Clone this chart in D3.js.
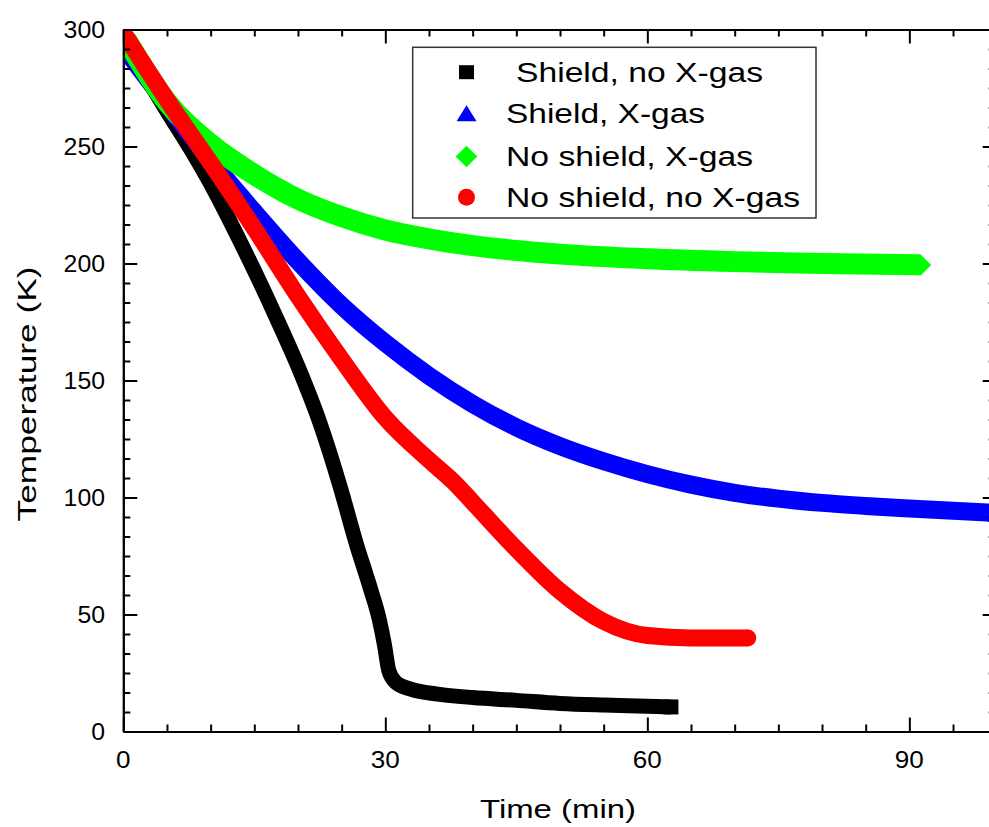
<!DOCTYPE html>
<html>
<head>
<meta charset="utf-8">
<script src="https://cdn.jsdelivr.net/npm/d3@7"></script>
<style>
  html, body { margin: 0; padding: 0; background: #fff; }
  svg { display: block; }
  text { font-family: "Liberation Sans", Arial, sans-serif; fill: #000; }
</style>
</head>
<body>
<svg id="chart" width="989" height="827"></svg>
<script>
// ---------------- data ----------------
const seriesNames = ["Shield, no X-gas", "Shield, X-gas", "No shield, X-gas", "No shield, no X-gas"];
const seriesColors = ["#000000", "#0000ff", "#00ff00", "#ff0000"];

const blackTime = [0.3, 5, 8, 10, 12.5, 15, 17.5, 20, 22.5, 24.8, 26.7, 28.3, 29.3, 29.9, 30.4, 31.2, 33, 36, 40, 45, 50, 55, 60, 62.7];
const blackTemp = [294, 265, 247, 234, 216, 197, 177, 156, 132, 105, 80, 61, 48, 37, 26, 21, 18, 16, 14.5, 13.3, 12, 11.3, 10.8, 10.5];

const blueTime = [0.3, 5, 10, 15, 20, 25, 30, 35, 40, 45, 50, 55, 60, 65, 70, 75, 80, 85, 90, 95, 100];
const blueTemp = [291, 268, 244, 222, 201, 182, 166, 152, 140, 130, 122, 115.5, 110, 105.5, 102, 99.5, 97.7, 96.4, 95.3, 94.3, 93.4];

const greenTime = [0.3, 5, 10, 15, 20, 25, 30, 35, 40, 50, 60, 70, 80, 91.3];
const greenTemp = [296, 269, 251, 238, 227.5, 220, 214.3, 210.5, 207.6, 204, 202, 200.8, 200, 199.4];

const redTime = [0.3, 5, 10, 15, 20, 25, 30, 35, 38, 40, 45, 50, 55, 60, 65, 71.5];
const redTemp = [297, 270, 243, 215, 186, 159, 134, 116, 106, 98, 78, 60, 47, 41, 40, 40];

const xMajorTicks = [0, 30, 60, 90];
const yMajorTicks = [0, 50, 100, 150, 200, 250, 300];
const xTitle = "Time (min)";
const yTitle = "Temperature (K)";

(function () {
// ---------------- layout ----------------
const svg = d3.select("#chart");
const pLeft = 123.3, pRight = 996.7, pTop = 29.5, pBottom = 731.5;
const x = d3.scaleLinear().domain([0, 100]).range([pLeft, pRight]);
const y = d3.scaleLinear().domain([0, 300]).range([pBottom, pTop]);

const xMinor = d3.range(0, 101, 5).filter(v => v % 30 !== 0);
const yMinor = d3.range(0, 301, 50 / 6).map(v => +v.toFixed(4)).filter(v => Math.abs(v / 50 - Math.round(v / 50)) > 1e-6);

svg.append("defs").append("clipPath").attr("id", "plotclip")
  .append("rect").attr("x", pLeft).attr("y", pTop).attr("width", pRight - pLeft).attr("height", pBottom - pTop);

const plot = svg.append("g").attr("clip-path", "url(#plotclip)");

const series = [
  { name: seriesNames[0], color: seriesColors[0], t: blackTime, v: blackTemp, w: 15, kind: "square" },
  { name: seriesNames[1], color: seriesColors[1], t: blueTime, v: blueTemp, w: 18, kind: "triangle" },
  { name: seriesNames[2], color: seriesColors[2], t: greenTime, v: greenTemp, w: 21, kind: "diamond" },
  { name: seriesNames[3], color: seriesColors[3], t: redTime, v: redTemp, w: 17, kind: "circle" },
];

const line = d3.line().x(d => x(d[0])).y(d => y(d[1])).curve(d3.curveMonotoneX);

function drawSymbol(g, kind, cx, cy, w, h, color) {
  const hw = w / 2, hh = h / 2;
  if (kind === "square") {
    g.append("rect").attr("x", cx - hw).attr("y", cy - hh).attr("width", w).attr("height", h).attr("fill", color);
  } else if (kind === "diamond") {
    g.append("path").attr("d", `M${cx - hw},${cy}L${cx},${cy - hh}L${cx + hw},${cy}L${cx},${cy + hh}Z`).attr("fill", color);
  } else if (kind === "circle") {
    g.append("ellipse").attr("cx", cx).attr("cy", cy).attr("rx", hw).attr("ry", hh).attr("fill", color);
  } else {
    g.append("path").attr("d", `M${cx - hw},${cy + hh}L${cx},${cy - hh}L${cx + hw},${cy + hh}Z`).attr("fill", color);
  }
}

series.forEach(s => {
  const pts = s.t.map((t, i) => [t, s.v[i]]);
  plot.append("path").datum(pts).attr("d", line)
    .attr("fill", "none").attr("stroke", s.color).attr("stroke-width", s.w)
    .attr("stroke-linejoin", "round").attr("stroke-linecap", "butt");
  [pts[0], pts[pts.length - 1]].forEach(p => drawSymbol(plot, s.kind, x(p[0]), y(p[1]), s.w, s.w, s.color));
});

// ---------------- axes ----------------
const axisG = svg.append("g");
function styleAxis(g) {
  g.selectAll("path.domain").attr("stroke", "#000").attr("stroke-width", 2);
  g.selectAll(".tick line").attr("stroke", "#000").attr("stroke-width", 2);
  g.selectAll("text").remove();
}
styleAxis(axisG.append("g").attr("transform", `translate(0,${pBottom})`)
  .call(d3.axisTop(x).tickValues(xMajorTicks).tickSizeInner(14).tickSizeOuter(0)));
styleAxis(axisG.append("g").attr("transform", `translate(0,${pTop})`)
  .call(d3.axisBottom(x).tickValues(xMajorTicks).tickSizeInner(14).tickSizeOuter(0)));
styleAxis(axisG.append("g").attr("transform", `translate(${pLeft},0)`)
  .call(d3.axisRight(y).tickValues(yMajorTicks).tickSizeInner(14).tickSizeOuter(0)));
styleAxis(axisG.append("g").attr("transform", `translate(${pRight},0)`)
  .call(d3.axisLeft(y).tickValues(yMajorTicks).tickSizeInner(14).tickSizeOuter(0)));
styleAxis(axisG.append("g").attr("transform", `translate(0,${pBottom})`)
  .call(d3.axisTop(x).tickValues(xMinor).tickSizeInner(7).tickSizeOuter(0)));
styleAxis(axisG.append("g").attr("transform", `translate(0,${pTop})`)
  .call(d3.axisBottom(x).tickValues(xMinor).tickSizeInner(7).tickSizeOuter(0)));
styleAxis(axisG.append("g").attr("transform", `translate(${pLeft},0)`)
  .call(d3.axisRight(y).tickValues(yMinor).tickSizeInner(7).tickSizeOuter(0)));
styleAxis(axisG.append("g").attr("transform", `translate(${pRight},0)`)
  .call(d3.axisLeft(y).tickValues(yMinor).tickSizeInner(8).tickSizeOuter(0)));

// tick labels
const labG = svg.append("g");
xMajorTicks.forEach(v => {
  const s = String(v);
  labG.append("text").attr("x", x(v)).attr("y", 768).attr("text-anchor", "middle")
    .attr("font-size", 24).attr("textLength", s.length * 14.5).attr("lengthAdjust", "spacingAndGlyphs").text(s);
});
yMajorTicks.forEach(v => {
  const s = String(v);
  labG.append("text").attr("x", 105).attr("y", y(v) + 8).attr("text-anchor", "end")
    .attr("font-size", 24).attr("textLength", s.length * 13.8).attr("lengthAdjust", "spacingAndGlyphs").text(s);
});

// axis titles
svg.append("text").attr("x", 558).attr("y", 818).attr("text-anchor", "middle")
  .attr("font-size", 26).attr("textLength", 156).attr("lengthAdjust", "spacingAndGlyphs").text(xTitle);
svg.append("text").attr("transform", "translate(36,394) rotate(-90)").attr("text-anchor", "middle")
  .attr("font-size", 26).attr("textLength", 255).attr("lengthAdjust", "spacingAndGlyphs").text(yTitle);

// ---------------- legend ----------------
const lg = svg.append("g");
lg.append("rect").attr("x", 412.7).attr("y", 47.3).attr("width", 403.3).attr("height", 170.7)
  .attr("fill", "#fff").attr("stroke", "#333").attr("stroke-width", 1.5);
const legendBaselines = [81.7, 122.7, 166, 206.7];
const legendTextX = [516, 506, 506, 506];
const legendTextLen = [247, 199, 247, 294];
const legendSym = [[15, 14], [20, 16], [21.7, 21.7], [17, 17]];
series.forEach((s, i) => {
  const cx = 466.5, cy = legendBaselines[i] - 9.5;
  drawSymbol(lg, s.kind, cx, cy, legendSym[i][0], legendSym[i][1], s.color);
  lg.append("text").attr("x", legendTextX[i]).attr("y", legendBaselines[i])
    .attr("font-size", 27).attr("textLength", legendTextLen[i]).attr("lengthAdjust", "spacingAndGlyphs")
    .text(s.name);
});
})();
</script>
</body>
</html>
